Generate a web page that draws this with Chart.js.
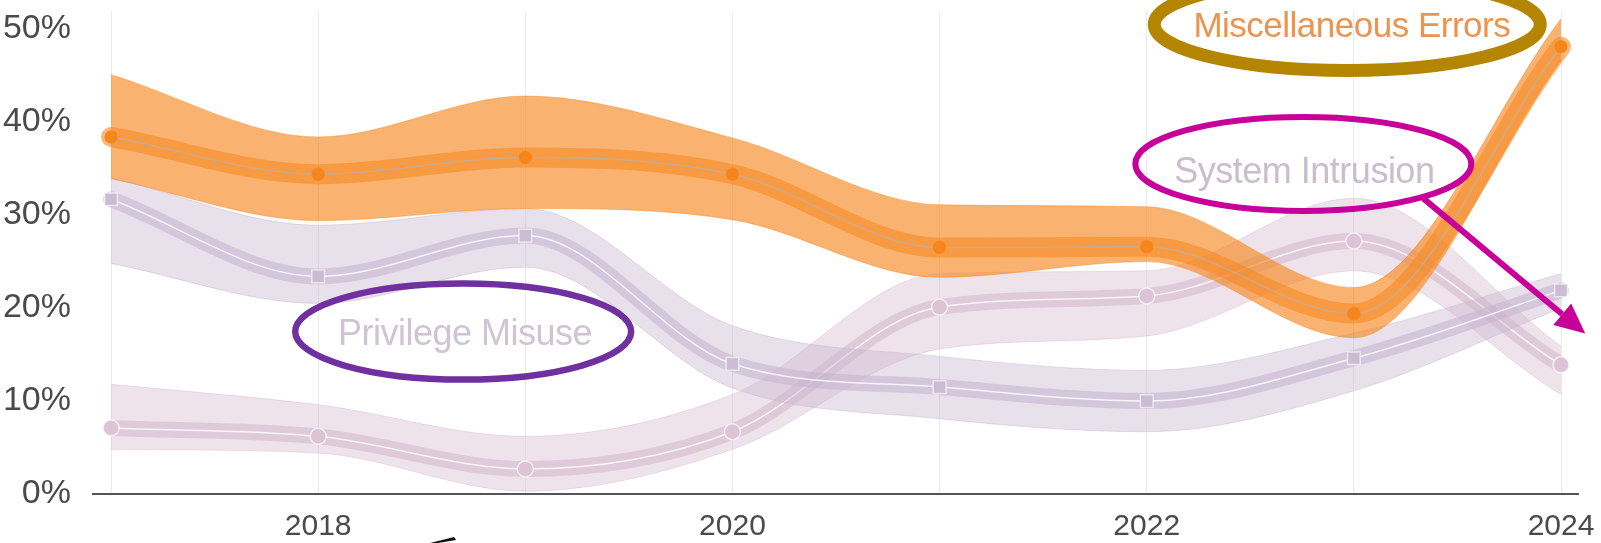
<!DOCTYPE html>
<html><head><meta charset="utf-8">
<script src="https://cdn.jsdelivr.net/npm/chart.js@4.4.1/dist/chart.umd.min.js"></script>
<style>html,body{margin:0;padding:0;background:#fff;overflow:hidden}#wrap{width:1601px;height:543px;position:relative}</style>
</head><body><div id="wrap"><canvas id="c"></canvas></div>
<script>
const years = [2017, 2018, 2019, 2020, 2021, 2022, 2023, 2024];
const xTickLabels = ['2018', '2020', '2022', '2024'];
const yTickValues = [0, 10, 20, 30, 40, 50];

const miscErrors      = [38.4, 34.4, 36.2, 34.4, 26.5, 26.6, 19.4, 48.1];
const miscErrorsHigh  = [45.1, 38.4, 42.8, 38.3, 31.1, 30.9, 22.2, 51.1];
const miscErrorsLow   = [33.9, 29.4, 30.7, 29.5, 23.3, 25.0, 16.8, 46.6];

const privilegeMisuse     = [31.7, 23.4, 27.8, 14.0, 11.5, 10.0, 14.6, 21.9];
const privilegeMisuseHigh = [34.0, 28.9, 30.7, 18.1, 14.8, 13.3, 17.3, 23.7];
const privilegeMisuseLow  = [24.8, 20.5, 24.4, 11.4, 8.1, 6.7, 11.1, 20.0];

const systemIntrusion     = [7.1, 6.2, 2.7, 6.7, 20.1, 21.3, 27.2, 13.9];
const systemIntrusionHigh = [11.8, 9.6, 6.2, 10.7, 23.7, 24.0, 31.8, 15.9];
const systemIntrusionLow  = [4.8, 4.4, 0.3, 4.8, 15.6, 17.0, 24.0, 10.7];

const toXY = arr => years.map((x, i) => ({x: x, y: arr[i]}));

function band(high, low, color, fillAlpha, edgeAlpha, order) {
  return [
    {data: toXY(high), borderColor: color(edgeAlpha), borderWidth: 1, backgroundColor: color(fillAlpha),
     fill: '+1', pointRadius: 0, order: order + 2, cubicInterpolationMode: 'monotone'},
    {data: toXY(low), borderColor: color(edgeAlpha), borderWidth: 1, fill: false,
     pointRadius: 0, order: order + 1, cubicInterpolationMode: 'monotone'}
  ];
}
function core(values, color, width, order) {
  return {data: toXY(values), borderColor: color, borderWidth: width, fill: false, pointRadius: 0,
          order: order, cubicInterpolationMode: 'monotone', borderCapStyle: 'round'};
}
function center(values, lineColor, pointStyle, radius, pointColor, pointBorder, order) {
  return {data: toXY(values), borderColor: lineColor, borderWidth: 1.5, fill: false,
          pointStyle: pointStyle, pointRadius: radius, pointBackgroundColor: pointColor,
          pointBorderColor: pointBorder, pointBorderWidth: 1.5, order: order, cubicInterpolationMode: 'monotone'};
}
const orange = a => `rgba(246,138,36,${a})`;
const lav = a => `rgba(200,182,208,${a})`;
const pink = a => `rgba(214,186,206,${a})`;

const datasets = [
  ...band(systemIntrusionHigh, systemIntrusionLow, pink, 0.4, 0.45, 30),
  core(systemIntrusion, pink(0.6), 16, 29),
  center(systemIntrusion, 'rgba(255,255,255,0.8)', 'circle', 8, '#dcc4d6', 'rgba(255,255,255,0.7)', 28),
  ...band(privilegeMisuseHigh, privilegeMisuseLow, lav, 0.42, 0.45, 20),
  core(privilegeMisuse, lav(0.6), 16, 19),
  center(privilegeMisuse, 'rgba(255,255,255,0.8)', 'rect', 9, '#cbbcd3', 'rgba(255,255,255,0.6)', 18),
  ...band(miscErrorsHigh, miscErrorsLow, orange, 0.66, 0.45, 10),
  core(miscErrors, orange(0.6), 20, 9),
  center(miscErrors, 'rgba(190,175,165,0.75)', 'circle', 6, '#f5861c', 'rgba(245,134,28,0.8)', 8)
];

const notes = {
  misc:  {ellipse: {x: 2022.968, y: 50.5, rx: 193, ry: 46, lw: 13, color: '#b48600'},
          text: {x: 2022.99, y: 49.1, label: 'Miscellaneous Errors', color: '#ec934e', size: 35}},
  sys:   {ellipse: {x: 2022.756, y: 35.5, rx: 168, ry: 47, lw: 6, color: '#c8009a'},
          text: {x: 2022.761, y: 33.5, label: 'System Intrusion', color: '#cabdce', size: 36}},
  priv:  {ellipse: {x: 2018.700, y: 17.47, rx: 168, ry: 48, lw: 6.5, color: '#7030a0'},
          text: {x: 2018.709, y: 16.0, label: 'Privilege Misuse', color: '#cfc3d4', size: 36}},
  arrow: {x1: 2023.335, y1: 31.79, x2: 2024.117, y2: 17.26, color: '#c8009a', lw: 6}
};

const annot = {
  id: 'annot',
  afterDraw(chart) {
    const {ctx, scales: {x, y}} = chart;
    ctx.save();
    ['misc', 'sys', 'priv'].forEach(k => {
      const t = notes[k].text;
      ctx.font = `${t.size}px "Liberation Sans", Arial, sans-serif`;
      ctx.textAlign = 'center';
      ctx.textBaseline = 'alphabetic';
      ctx.fillStyle = t.color;
      if (ctx.letterSpacing !== undefined) ctx.letterSpacing = '-0.5px';
      ctx.fillText(t.label, x.getPixelForValue(t.x), y.getPixelForValue(t.y));
      const e = notes[k].ellipse;
      ctx.beginPath();
      ctx.ellipse(x.getPixelForValue(e.x), y.getPixelForValue(e.y), e.rx, e.ry, 0, 0, Math.PI * 2);
      ctx.lineWidth = e.lw;
      ctx.strokeStyle = e.color;
      ctx.stroke();
    });
    const a = notes.arrow;
    const x1 = x.getPixelForValue(a.x1), y1 = y.getPixelForValue(a.y1);
    const x2 = x.getPixelForValue(a.x2), y2 = y.getPixelForValue(a.y2);
    const ang = Math.atan2(y2 - y1, x2 - x1);
    const hl = 30, hw = 14;
    const bx = x2 - hl * Math.cos(ang), by = y2 - hl * Math.sin(ang);
    ctx.beginPath();
    ctx.moveTo(x1, y1); ctx.lineTo(bx, by);
    ctx.lineWidth = a.lw; ctx.strokeStyle = a.color; ctx.stroke();
    ctx.beginPath();
    ctx.moveTo(x2, y2);
    ctx.lineTo(bx + hw * Math.sin(ang), by - hw * Math.cos(ang));
    ctx.lineTo(bx - hw * Math.sin(ang), by + hw * Math.cos(ang));
    ctx.closePath(); ctx.fillStyle = a.color; ctx.fill();
    // small pen mark at bottom edge
    const mx = x.getPixelForValue(2018.55), my = chart.height;
    ctx.beginPath();
    ctx.moveTo(mx - 2, my); ctx.lineTo(mx + 22, my - 6); ctx.lineTo(mx + 24, my - 3); ctx.lineTo(mx + 6, my);
    ctx.closePath(); ctx.fillStyle = '#111'; ctx.fill();
    ctx.restore();
  }
};

const axisFont = {family: '"Liberation Sans", Arial, sans-serif', size: 30};
new Chart(document.getElementById('c'), {
  type: 'line',
  data: {datasets: datasets},
  options: {
    responsive: true, maintainAspectRatio: false, animation: false, devicePixelRatio: 1,
    layout: {padding: {left: 0, right: 23, top: 0, bottom: 0}},
    plugins: {legend: {display: false}, tooltip: {enabled: false}, filler: {drawTime: 'beforeDatasetDraw'}},
    scales: {
      x: {
        type: 'linear', min: 2016.913, max: 2024.082,
        afterBuildTicks: s => { s.ticks = years.map(v => ({value: v})); },
        afterFit: s => { s.height = 49; s.paddingLeft = 0; s.paddingRight = 0; },
        grid: {color: '#ebebeb', lineWidth: 1, drawTicks: false},
        border: {display: true, color: '#555', width: 2},
        ticks: {callback: v => xTickLabels.includes(String(v)) ? String(v) : '', font: axisFont,
                color: '#4a4a4a', padding: 15, maxRotation: 0, autoSkip: false}
      },
      y: {
        min: 0, max: 52.0,
        afterBuildTicks: s => { s.ticks = yTickValues.map(v => ({value: v})); },
        afterFit: s => { s.width = 93; s.paddingTop = 0; s.paddingBottom = 0; },
        grid: {display: false, drawTicks: false},
        border: {display: false},
        ticks: {callback: v => v + '%', font: {family: axisFont.family, size: 34}, color: '#4a4a4a', padding: 22}
      }
    }
  },
  plugins: [annot]
});
</script></body></html>
